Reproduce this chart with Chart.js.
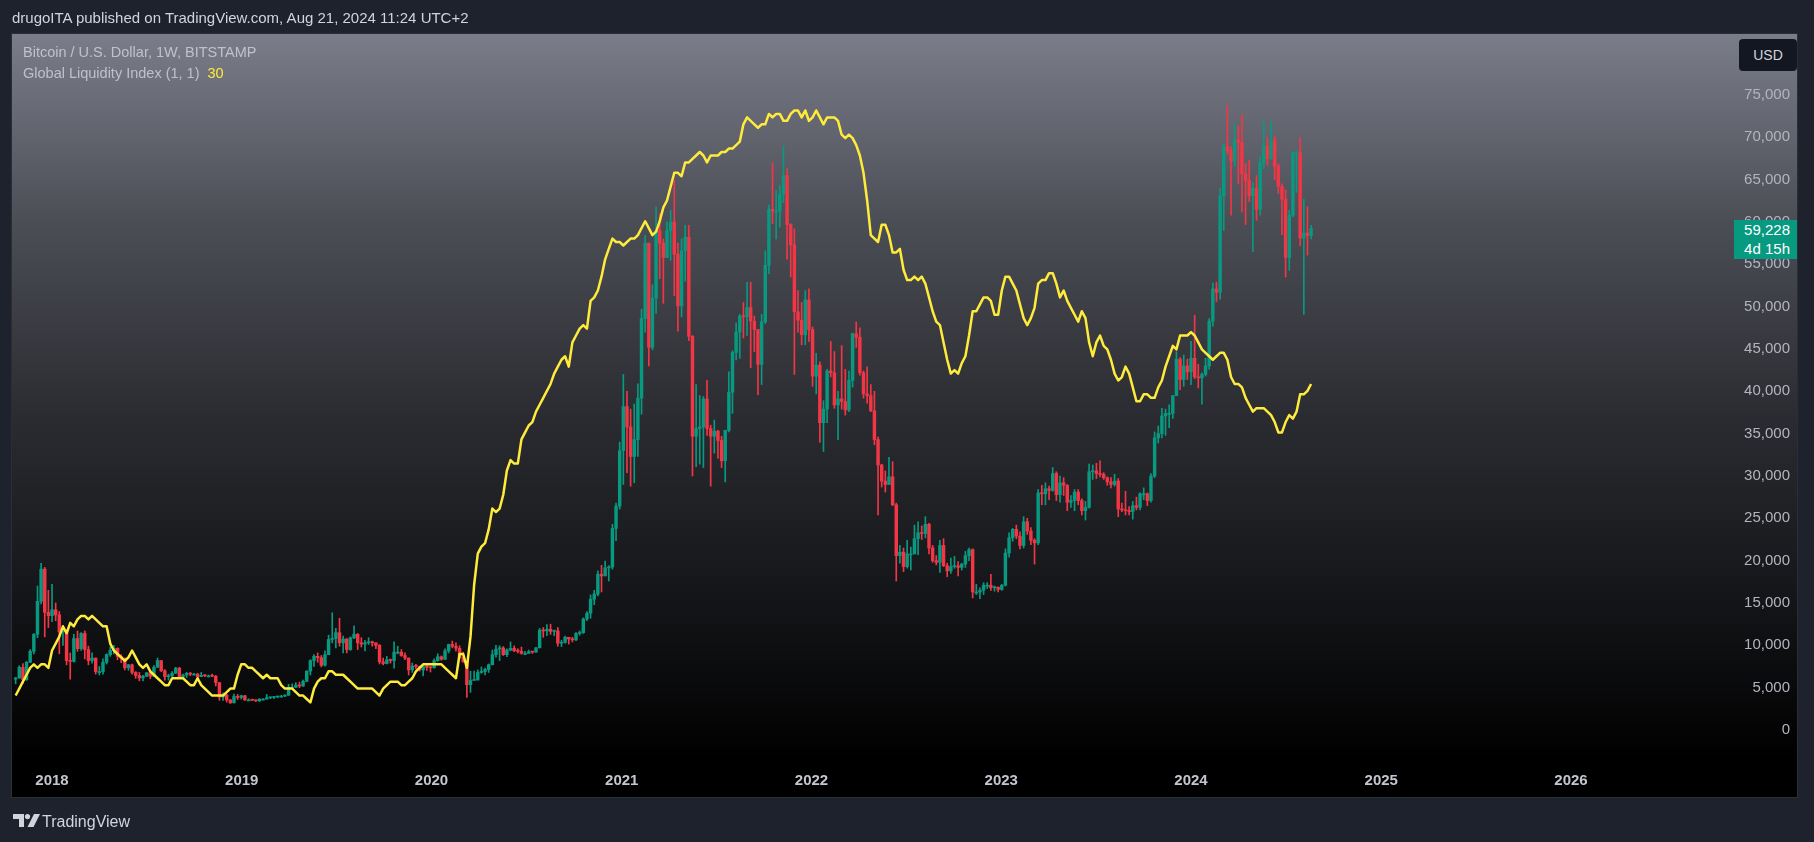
<!DOCTYPE html>
<html lang="en">
<head>
<meta charset="utf-8">
<title>Bitcoin / U.S. Dollar, 1W, BITSTAMP - Global Liquidity Index</title>
<script src="https://cdn.jsdelivr.net/npm/chart.js@4.4.1/dist/chart.umd.min.js"></script>
<style>
    html, body { margin: 0; padding: 0; background: #1e222d; }
    body { width: 1814px; height: 842px; position: relative; overflow: hidden;
           font-family: "Liberation Sans", Arial, sans-serif; }
    #grafica { position: absolute; left: 0; top: 0; }
    .texto { position: absolute; white-space: nowrap; }
    #cabecera { left: 12px; top: 9px; font-size: 15px; line-height: 18px; color: #d1d4dc; }
    #leyenda1 { left: 23px; top: 44px; font-size: 14.5px; line-height: 17px; color: rgba(209, 212, 220, 0.8); }
    #leyenda2 { left: 23px; top: 65px; font-size: 14.5px; line-height: 17px; color: rgba(209, 212, 220, 0.8); }
    #leyenda2 span { color: #ffeb3b; margin-left: 8px; }
    #usd { left: 1739px; top: 39px; width: 58px; height: 32px; line-height: 32px; text-align: center;
           background: #131722; border-radius: 4px; color: #d1d4dc; font-size: 14px; }
    #etiqueta { left: 1734px; top: 220px; width: 56px; height: 39px; padding: 0 7px 0 0; text-align: right;
                background: #089981; color: #ffffff; font-size: 15px; line-height: 19px; }
    #logo { left: 13px; top: 814px; }
    #marca { left: 42px; top: 812px; font-size: 16px; line-height: 19px; color: #d1d4dc; }
</style>
</head>
<body>
<canvas id="grafica" width="1814" height="842"></canvas>
<div class="texto" id="cabecera">drugoITA published on TradingView.com, Aug 21, 2024 11:24 UTC+2</div>
<div class="texto" id="leyenda1">Bitcoin / U.S. Dollar, 1W, BITSTAMP</div>
<div class="texto" id="leyenda2">Global Liquidity Index (1, 1)<span>30</span></div>
<div class="texto" id="usd">USD</div>
<div class="texto" id="etiqueta"><div>59,228</div><div>4d 15h</div></div>
<svg class="texto" id="logo" width="27" height="13" viewBox="0 0 27 13">
    <path d="M0 0 H11 V13 H6 V5 H0 Z" fill="#d1d4dc"/>
    <circle cx="14.5" cy="2.6" r="2.6" fill="#d1d4dc"/>
    <path d="M21 0 H27 L20.5 13 H14.5 Z" fill="#d1d4dc"/>
</svg>
<div class="texto" id="marca">TradingView</div>
<script>

    /*
     * Velas semanales BTC/USD (Bitstamp) y Global Liquidity Index
     */

    // Primera vela semanal: lunes 23 de octubre de 2017
    const inicio = Date.UTC(2017, 9, 23);
    const SEMANA = 7 * 24 * 3600 * 1000;

    // Años que aparecen en el eje x
    const anios = [2018, 2019, 2020, 2021, 2022, 2023, 2024, 2025, 2026];

    // Precios del eje y
    const preciosEje = [0, 5000, 10000, 15000, 20000, 25000, 30000, 35000, 40000,
        45000, 50000, 55000, 60000, 65000, 70000, 75000];

    // Apertura de cada semana
    const apertura = [
        6000,6150,7400,5950,8000,9300,11300,15200,19000,13900,
        13500,14200,13600,11600,11800,8200,8100,10800,9600,11400,
        9500,8200,8500,6900,6900,8000,8900,9400,9650,8700,
        8500,7350,7700,6800,6450,6150,6350,6750,6350,7400,
        8200,7000,6300,6400,6700,7300,6250,6500,6700,6600,
        6600,6300,6450,6400,6400,6350,5600,3900,4100,3550,
        3200,3950,3850,4050,3550,3550,3500,3450,3650,3650,
        3800,3850,3900,4000,4000,4100,5050,5050,5300,5200,
        5750,6950,8200,8700,8550,7650,8900,10700,10800,11500,
        10300,10750,9500,10900,11300,10300,10150,10300,10400,10300,
        10000,8050,7850,8300,8200,9200,9200,8800,8500,7100,
        7550,7500,7100,7500,7400,7350,8200,8650,8350,9350,
        10100,9900,9650,8550,8050,5350,5850,5900,6800,6900,
        7150,7700,8900,9550,9700,8900,9450,9650,9350,9300,
        9050,9050,9250,9200,9700,11800,11700,11900,11650,11700,
        10250,10350,10950,10750,10650,11400,11500,13100,13800,15450,
        16050,18400,18200,19150,19250,23800,26450,33000,38200,35800,
        32300,34300,39200,48600,57500,45200,51000,59000,57500,55800,
        59000,60000,56200,50100,56600,58200,46500,34700,35600,35800,
        39100,35600,34700,35300,34200,31800,35400,39900,44600,47000,
        48900,48800,49900,48300,47300,43200,48200,54900,61500,61300,
        61300,63300,65500,59700,57300,49400,48400,46700,50800,47300,
        41800,43100,36300,37900,42400,42200,38400,39100,38800,37800,
        41300,46800,46400,42200,39700,39500,37700,34300,31300,29400,
        29000,29900,26600,20600,21000,19300,20800,20800,22600,23300,
        23200,24300,21500,20000,19800,21800,19400,18800,19300,19400,
        19200,19600,20600,21300,16300,16300,16500,17100,17100,16800,
        16850,16600,17100,20900,22700,23700,22900,21800,24600,23500,
        22400,22100,28000,27900,28500,28300,30300,27800,29200,28900,
        26900,27100,28100,27100,25900,26300,30500,30600,30300,30200,
        29800,29300,29000,29400,26100,26000,25900,25800,26500,26300,
        27900,27900,27100,30000,34500,35000,37100,37400,37400,39500,
        43800,41400,43000,42300,43900,41700,41600,42000,43000,48300,
        52100,51700,63100,68900,68400,67200,69700,69400,65700,64900,
        63100,64000,61500,67000,69000,67500,69600,66600,64200,62700,
        55800,60800,68200,68200,58100,58700,58400
    ];

    // Máximo de cada semana
    const maximo = [
        6200,7600,7850,8100,9500,11400,17000,19700,19200,16500,
        17200,15000,14000,12000,11800,9100,11300,11700,11500,11700,
        9900,9100,8500,7500,8400,9000,9800,9990,9700,8900,
        8500,7750,7800,6900,6800,6450,6800,6800,7600,8500,
        8200,7150,6600,6900,7400,7400,6600,6800,6800,6700,
        6700,6800,6550,6500,6600,6450,5600,4400,4200,3600,
        4250,4200,4100,4100,3700,3650,3550,3700,3700,4200,
        3900,3950,4000,4100,4150,5400,5450,5600,5650,5900,
        7000,8300,8900,9100,8800,9350,11200,13850,12000,13200,
        11100,10800,11000,12300,11400,10900,10600,10900,10500,10300,
        10100,8500,8700,8400,10400,9900,9500,9100,8500,7900,
        7750,7550,7500,7700,7500,8400,9000,8750,9600,10150,
        10500,10300,9950,9200,8150,6950,6950,7100,7450,7300,
        7800,9450,10000,9950,9850,9600,10400,9950,9600,9800,
        9300,9450,9300,9750,12000,12100,12450,12500,11800,12100,
        10600,11100,10950,10950,11500,11700,13250,14000,15950,16500,
        18800,19450,19950,19400,24300,26800,34000,42000,40000,37900,
        38500,40900,49700,58400,57500,52600,61800,61000,58000,60000,
        61400,64900,57500,58000,59600,59600,46600,40800,39500,39400,
        41300,36000,36600,35400,34700,35400,42300,44800,48100,49100,
        50500,52900,52900,48900,47300,49100,56600,62000,67000,63700,
        64300,69000,66300,59800,59200,51900,50500,51900,52100,47600,
        44500,43500,38900,42600,45900,44700,40000,45400,42600,42400,
        46900,48200,47500,42400,42900,40800,40000,34600,31400,30600,
        32200,31700,26800,21800,21500,22400,21600,24200,24600,24100,
        25200,24400,21800,20600,22400,22600,19700,20300,20500,19900,
        19700,21100,21500,21400,17200,16800,17400,17400,18400,17000,
        16900,17200,21400,23300,23800,24200,23400,25200,25000,23900,
        22600,28400,28900,29200,28800,31000,30500,30000,29800,29000,
        27700,28400,28400,27300,27000,31400,31300,31500,31800,30400,
        29900,29800,30200,29700,26800,28200,26400,27000,27500,28000,
        28600,28000,30300,35200,35900,38000,37900,38400,39500,44700,
        44000,44300,43800,45900,49000,43200,42200,43900,48600,52800,
        52900,64000,69200,73800,68900,71600,71300,72700,66900,67300,
        64700,65500,67700,71900,70000,71900,70100,66900,64500,63800,
        61400,68300,68400,70000,62700,61800,59600
    ];

    // Mínimo de cada semana
    const minimo = [
        5450,6100,5500,5850,7950,9000,10900,14900,11000,12100,
        12800,12900,9000,10000,7700,6000,8000,9300,9400,8400,
        7700,7900,6600,6500,6600,7800,8700,9000,8300,7950,
        7100,7050,6600,6100,5800,5800,6300,6050,6300,7400,
        6900,5900,5900,6300,6700,6100,6200,6200,6400,6500,
        6100,6300,6300,6250,6300,5200,3500,3500,3300,3150,
        3200,3600,3650,3500,3500,3500,3350,3350,3550,3650,
        3700,3700,3800,3900,3950,4100,4900,5000,5000,5150,
        5700,6500,7500,8000,7450,7550,8900,10300,9700,9900,
        9100,9100,9400,10800,9500,9800,9350,10100,9900,9600,
        7800,7700,7800,7900,7300,9000,8700,8300,6500,6800,
        7200,6950,6400,7050,6850,7300,8100,8250,8300,9100,
        9700,9300,8450,8000,3850,4450,5850,5900,6700,6500,
        6800,7700,8600,8200,8800,8650,9350,9250,9100,8950,
        8900,9050,9050,9150,9700,10950,11150,11300,11150,9900,
        9850,10250,10150,10400,10550,11200,11400,12900,13200,14800,
        15850,16300,18200,17600,19000,22350,26100,29000,30400,28800,
        29200,32300,37300,47000,43000,44900,49200,53300,50400,55800,
        55500,51300,47100,48800,53000,46000,30000,31100,31400,31000,
        34800,28800,32700,32100,31000,29300,35200,37400,43700,43900,
        46300,46600,42800,44700,39600,40800,48000,53900,59800,58000,
        59400,62300,55600,53500,42000,47000,45500,45500,45900,40600,
        39700,34000,32900,36300,41700,38000,34300,37900,37200,37600,
        40500,45200,41900,39200,38600,37600,33700,25400,28700,28100,
        29000,26500,17600,19700,18700,19100,18900,20800,20700,22500,
        22700,20800,19800,19500,18600,19300,18100,18500,19100,18200,
        18900,19200,20000,15600,16000,15500,16000,16700,16500,16400,
        16300,16500,17000,20400,22300,22600,21400,21500,23100,21900,
        19600,21900,26600,26600,27200,28200,27100,26900,27700,25900,
        26300,25900,26600,25400,24800,26200,29600,29700,29900,29600,
        28900,28600,28800,25200,25800,25400,25400,24900,26000,26000,
        27200,26500,26900,29800,33900,34500,34800,35700,36800,39500,
        40200,40600,41400,40800,41500,40400,38500,41800,42600,47700,
        50600,50900,59000,68000,60800,66600,64500,61200,59700,62400,
        56500,60200,60800,66300,66700,67400,65000,63400,58500,53500,
        54300,60600,63500,57200,49100,56100,58000
    ];

    // Cierre de cada semana (la última es la semana en curso)
    const cierre = [
        6150,7400,5950,8000,9300,11300,15200,19000,13900,13500,
        14200,13600,11600,11800,8200,8100,10800,9600,11400,9500,
        8200,8500,6900,6900,8000,8900,9400,9650,8700,8500,
        7350,7700,6800,6450,6150,6350,6750,6350,7400,8200,
        7000,6300,6400,6700,7300,6250,6500,6700,6600,6600,
        6300,6450,6400,6400,6350,5600,3900,4100,3550,3200,
        3950,3850,4050,3550,3550,3500,3450,3650,3650,3800,
        3850,3900,4000,4000,4100,5050,5050,5300,5200,5750,
        6950,8200,8700,8550,7650,8900,10700,10800,11500,10300,
        10750,9500,10900,11300,10300,10150,10300,10400,10300,10000,
        8050,7850,8300,8200,9200,9200,8800,8500,7100,7550,
        7500,7100,7500,7400,7350,8200,8650,8350,9350,10100,
        9900,9650,8550,8050,5350,5850,5900,6800,6900,7150,
        7700,8900,9550,9700,8900,9450,9650,9350,9300,9050,
        9050,9250,9200,9700,11800,11700,11900,11650,11700,10250,
        10350,10950,10750,10650,11400,11500,13100,13800,15450,16050,
        18400,18200,19150,19250,23800,26450,33000,38200,35800,32300,
        34300,39200,48600,57500,45200,51000,59000,57500,55800,59000,
        60000,56200,50100,56600,58200,46500,34700,35600,35800,39100,
        35600,34700,35300,34200,31800,35400,39900,44600,47000,48900,
        48800,49900,48300,47300,43200,48200,54900,61500,61300,61300,
        63300,65500,59700,57300,49400,48400,46700,50800,47300,41800,
        43100,36300,37900,42400,42200,38400,39100,38800,37800,41300,
        46800,46400,42200,39700,39500,37700,34300,31300,29400,29000,
        29900,26600,20600,21000,19300,20800,20800,22600,23300,23200,
        24300,21500,20000,19800,21800,19400,18800,19300,19400,19200,
        19600,20600,21300,16300,16300,16500,17100,17100,16800,16850,
        16600,17100,20900,22700,23700,22900,21800,24600,23500,22400,
        22100,28000,27900,28500,28300,30300,27800,29200,28900,26900,
        27100,28100,27100,25900,26300,30500,30600,30300,30200,29800,
        29300,29000,29400,26100,26000,25900,25800,26500,26300,27900,
        27900,27100,30000,34500,35000,37100,37400,37400,39500,43800,
        41400,43000,42300,43900,41700,41600,42000,43000,48300,52100,
        51700,63100,68900,68400,67200,69700,69400,65700,64900,63100,
        64000,61500,67000,69000,67500,69600,66600,64200,62700,55800,
        60800,68200,68200,58100,58700,58400,59228
    ];

    // Global Liquidity Index semanal (escala propia, oculta)
    const liquidez = [
        21.0,21.2,21.4,21.6,21.8,21.9,21.8,21.9,21.9,21.8,
        22.3,22.5,22.7,23.0,22.8,23.1,23.0,23.2,23.3,23.3,
        23.2,23.3,23.2,23.1,23.0,23.0,22.5,22.3,22.2,22.1,
        22.0,22.1,22.3,22.1,21.9,21.8,21.9,21.7,21.6,21.5,
        21.4,21.3,21.3,21.5,21.5,21.5,21.5,21.4,21.3,21.3,
        21.5,21.3,21.2,21.1,21.0,21.0,21.0,21.0,21.1,21.2,
        21.2,21.6,21.9,21.9,21.8,21.8,21.7,21.6,21.5,21.6,
        21.5,21.5,21.5,21.3,21.2,21.2,21.2,21.1,21.0,21.0,
        20.9,20.8,21.2,21.4,21.5,21.5,21.7,21.7,21.6,21.6,
        21.6,21.5,21.4,21.3,21.2,21.2,21.2,21.2,21.2,21.1,
        21.0,21.2,21.3,21.4,21.4,21.4,21.3,21.3,21.4,21.5,
        21.7,21.8,21.9,21.9,21.9,21.9,21.9,21.9,21.8,21.7,
        21.6,21.5,22.2,22.2,21.8,22.7,24.2,25.1,25.3,25.4,
        25.8,26.4,26.3,26.4,26.8,27.5,27.8,27.7,27.7,28.4,
        28.6,28.8,28.9,29.2,29.4,29.6,29.8,30.0,30.3,30.5,
        30.7,30.8,30.5,31.2,31.4,31.6,31.7,31.6,32.4,32.5,
        32.7,33.1,33.6,33.9,34.2,34.1,34.1,34.0,34.1,34.2,
        34.2,34.3,34.5,34.7,34.5,34.3,34.4,34.7,35.1,35.3,
        35.7,36.1,36.1,36.0,36.4,36.4,36.5,36.6,36.7,36.6,
        36.4,36.6,36.6,36.6,36.7,36.7,36.8,36.8,36.9,37.0,
        37.5,37.7,37.6,37.5,37.4,37.5,37.5,37.8,37.7,37.8,
        37.8,37.6,37.6,37.8,37.9,37.9,37.7,37.9,37.6,37.7,
        37.9,37.7,37.5,37.7,37.7,37.7,37.6,37.2,37.1,37.2,
        37.1,36.9,36.6,36.1,35.3,34.3,34.2,34.1,34.6,34.6,
        34.3,33.8,33.8,33.9,33.3,33.0,33.0,33.1,33.0,33.1,
        32.9,32.5,32.1,31.8,31.7,31.2,30.7,30.3,30.4,30.3,
        30.6,30.8,31.4,32.1,32.1,32.3,32.5,32.5,32.4,32.0,
        32.0,32.7,33.1,33.1,32.9,32.7,32.3,31.9,31.7,31.9,
        32.2,32.9,33.0,33.0,33.2,33.2,32.9,32.5,32.7,32.4,
        32.2,32.0,31.8,32.1,31.9,31.2,30.8,31.2,31.4,31.1,
        31.0,30.7,30.3,30.1,30.2,30.5,30.3,29.9,29.5,29.5,
        29.7,29.7,29.6,29.6,29.9,30.1,30.5,30.8,31.1,31.0,
        31.4,31.4,31.4,31.5,31.4,31.2,31.0,30.9,30.8,30.7,
        30.8,30.9,30.9,30.7,30.2,30.0,30.0,29.9,29.6,29.4,
        29.2,29.3,29.3,29.3,29.2,29.1,28.9,28.6,28.6,28.9,
        29.1,29.0,29.2,29.7,29.7,29.8,30.0
    ];

    // Fecha de cada vela y color según suba o baje
    const semanas = cierre.map((c, i) => inicio + i * SEMANA);
    const colorVela = cierre.map((c, i) => c >= apertura[i] ? '#089981' : '#f23645');

    // Fondo degradado del panel y posición de la etiqueta del último precio
    const fondoPanel = {
        id: 'fondoPanel',
        beforeDraw(chart) {
            const ctx = chart.ctx;
            const grad = ctx.createLinearGradient(0, 34, 0, 797);
            grad.addColorStop(0, '#7a7d89');
            grad.addColorStop(0.25, '#4b4d55');
            grad.addColorStop(0.5, '#2b2c31');
            grad.addColorStop(0.75, '#131417');
            grad.addColorStop(0.95, '#000000');
            ctx.save();
            ctx.fillStyle = grad;
            ctx.fillRect(12, 34, 1785, 763);
            ctx.strokeStyle = '#2a2e39';
            ctx.lineWidth = 1;
            ctx.strokeRect(11.5, 33.5, 1786, 764);
            ctx.restore();
        },
        afterDraw(chart) {
            const py = chart.scales.y.getPixelForValue(cierre[cierre.length - 1]);
            document.getElementById('etiqueta').style.top = Math.round(py - 9) + 'px';
        }
    };

    // Opciones de los ejes
    const opciones = {
        responsive: false,
        devicePixelRatio: 1,
        animation: false,
        layout: { padding: { left: 12, top: 35, right: 24, bottom: 45 } },
        plugins: { legend: { display: false }, tooltip: { enabled: false } },
        scales: {
            x: {
                type: 'linear',
                offset: false,
                min: Date.UTC(2017, 9, 16),
                max: Date.UTC(2026, 9, 30),
                grid: { display: false, drawTicks: false },
                border: { display: false },
                afterBuildTicks: (s) => { s.ticks = anios.map(a => ({ value: Date.UTC(a, 0, 1) })); },
                afterFit: (s) => { s.height = 35; },
                ticks: {
                    autoSkip: false,
                    maxRotation: 0,
                    padding: 10,
                    color: '#c3c6ce',
                    font: { family: 'Liberation Sans', size: 15, weight: 'bold' },
                    callback: (v) => new Date(v).getUTCFullYear()
                }
            },
            y: {
                position: 'right',
                min: -3780,
                max: 82090,
                grid: { display: false, drawTicks: false },
                border: { display: false },
                afterBuildTicks: (s) => { s.ticks = preciosEje.map(p => ({ value: p })); },
                afterFit: (s) => { s.width = 62; },
                ticks: {
                    autoSkip: false,
                    crossAlign: 'far',
                    color: '#b2b5be',
                    font: { family: 'Liberation Sans', size: 15 },
                    callback: (v) => v.toLocaleString('en-US')
                }
            },
            y2: {
                display: false,
                min: 19.08,
                max: 40.08
            }
        }
    };

    // Represento la gráfica: línea de liquidez, cuerpos y mechas de las velas
    const grafica = new Chart(document.getElementById('grafica'), {
        type: 'bar',
        data: {
            datasets: [
                {
                    type: 'line',
                    label: 'Global Liquidity Index (1, 1)',
                    yAxisID: 'y2',
                    data: semanas.map((t, i) => ({ x: t, y: liquidez[i] })),
                    borderColor: '#ffeb3b',
                    borderWidth: 2.5,
                    borderJoinStyle: 'round',
                    pointRadius: 0,
                    tension: 0,
                    order: 0
                },
                {
                    label: 'Cuerpos',
                    yAxisID: 'y',
                    data: semanas.map((t, i) => ({ x: t, y: [apertura[i], cierre[i]] })),
                    backgroundColor: colorVela,
                    barThickness: 2.8,
                    minBarLength: 1,
                    grouped: false,
                    order: 1
                },
                {
                    label: 'Mechas',
                    yAxisID: 'y',
                    data: semanas.map((t, i) => ({ x: t, y: [minimo[i], maximo[i]] })),
                    backgroundColor: colorVela,
                    barThickness: 1,
                    grouped: false,
                    order: 2
                }
            ]
        },
        options: opciones,
        plugins: [fondoPanel]
    });
</script>
</body>
</html>
